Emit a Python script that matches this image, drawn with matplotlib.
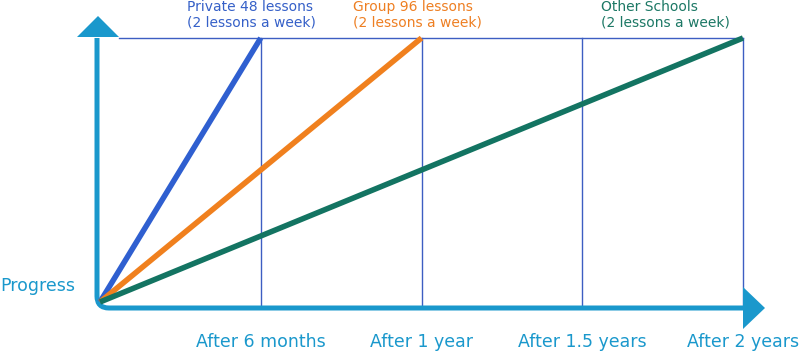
import matplotlib.pyplot as plt
from matplotlib.patches import Polygon
from matplotlib.path import Path
from matplotlib.patches import PathPatch
from matplotlib.transforms import Affine2D

# data
tick_months = [6, 12, 18, 24]
tick_labels = ["After 6 months", "After 1 year", "After 1.5 years", "After 2 years"]
series_names = ["Private 48 lessons\n(2 lessons a week)",
                "Group 96 lessons\n(2 lessons a week)",
                "Other Schools\n(2 lessons a week)"]
series_x = [[0, 6], [0, 12], [0, 24]]
series_y = [[0, 1], [0, 1], [0, 1]]
series_colors = ["#2f5fd0", "#f0801e", "#137462"]
text_colors = ["#3560c8", "#ee7f22", "#1c7865"]

W, H = 800, 355
AXC = "#1a98cc"
GRIDC = "#3d5ec2"

fig = plt.figure(figsize=(W / 100, H / 100), dpi=100)
fig.patch.set_facecolor("white")
ax = fig.add_axes([0, 0, 1, 1])
ax.set_axis_off()

# pixel layout: month 0 -> x=100px, month 24 -> x=743px ; progress 0 -> y=302px, 1 -> y=38px (from top)
sx = (743 - 100) / 24
sy = (302 - 38) / 1
ax.set_xlim(-100 / sx, (W - 100) / sx)
ax.set_ylim(-(H - 302) / sy, 302 / sy)

# pixel transform, origin top-left
px = Affine2D().scale(1, -1).translate(0, H).scale(1 / W, 1 / H) + fig.transFigure

# grid: top line and verticals
ax.plot([(119 - 100) / sx, 24], [1, 1], color=GRIDC, lw=1.0, zorder=1)
for m in tick_months:
    ax.plot([m, m], [-6 / sy, 1], color=GRIDC, lw=1.0, zorder=1)

# axes with rounded corner
verts = [(97, 38), (97, 296), (97, 308), (109, 308), (745, 308)]
codes = [Path.MOVETO, Path.LINETO, Path.CURVE3, Path.CURVE3, Path.LINETO]
ax.add_patch(PathPatch(Path(verts, codes), transform=px, fill=False,
                       edgecolor=AXC, lw=3.6, capstyle="butt", zorder=3))
ax.add_patch(Polygon([(77, 37), (119, 37), (98, 16)], closed=True, transform=px,
                     facecolor=AXC, edgecolor="none", zorder=3))
ax.add_patch(Polygon([(743, 287), (743, 329), (765, 308)], closed=True, transform=px,
                     facecolor=AXC, edgecolor="none", zorder=3))

# series
for xs, ys, c in zip(series_x, series_y, series_colors):
    ax.plot(xs, ys, color=c, lw=4.0, solid_capstyle="butt", zorder=4)

# series labels
label_left = [187, 353, 601]
for name, xl, c in zip(series_names, label_left, text_colors):
    ax.text(xl, 0, name, transform=px, ha="left", va="top", color=c,
            fontsize=10, family="DejaVu Sans", linespacing=1.1)

# bottom labels
for m, lab in zip(tick_months, tick_labels):
    ax.text(m, -40 / sy, lab, ha="center", va="center", color=AXC,
            fontsize=12.5, family="DejaVu Sans")

ax.text(0, 286, "Progress", transform=px, ha="left", va="center", color=AXC,
        fontsize=12.5, family="DejaVu Sans")

fig.savefig("out.png", dpi=100, facecolor="white")
